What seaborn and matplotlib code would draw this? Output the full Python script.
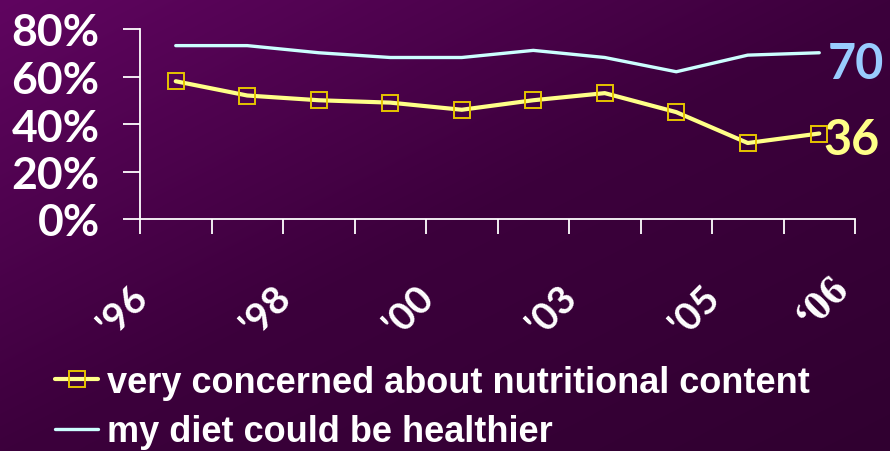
import numpy as np
import matplotlib
matplotlib.use("Agg")
import matplotlib.pyplot as plt
import seaborn as sns
from matplotlib import transforms

# Survey waves and results (percent)
survey_index = [0, 1, 2, 3, 4, 5, 6, 7, 8, 9]
concerned = [58, 52, 50, 49, 46, 50, 53, 45, 32, 36]
healthier = [73, 73, 70, 68, 68, 71, 68, 62, 69, 70]
year_labels = ["'96", "'98", "'00", "'03", "'05", "\u201806"]
y_ticks = [0, 20, 40, 60, 80]
y_labels = ["0%", "20%", "40%", "60%", "80%"]
series_names = ["very concerned about nutritional content",
                "my diet could be healthier"]

sns.set_theme(style="white")
plt.rcParams["font.family"] = ["Lato", "DejaVu Sans"]

W, H, DPI = 890, 452, 100
fig = plt.figure(figsize=(W / DPI, H / DPI), dpi=DPI)

# Diagonal purple gradient backdrop
bg = fig.add_axes([0, 0, 1, 1], zorder=-10)
yy, xx = np.mgrid[0:H, 0:W]
t = (xx / W + yy / H) / 2.0
stops = [0.0, 0.5, 1.0]
cols = np.array([[0x60, 0x05, 0x60], [0x3c, 0x00, 0x3c], [0x30, 0x00, 0x30]]) / 255.0
img = np.dstack([np.interp(t, stops, cols[:, c]) for c in range(3)])
bg.imshow(img, aspect="auto", extent=[0, 1, 0, 1], origin="upper")
bg.set_axis_off()

ax = fig.add_axes([140 / W, 1 - 220 / H, 715 / W, 190 / H])
ax.patch.set_alpha(0)

sns.lineplot(x=survey_index, y=healthier, ax=ax, color="#ccffff", lw=2.4,
             label=series_names[1], zorder=3)
sns.lineplot(x=survey_index, y=concerned, ax=ax, color="#ffff88", lw=3.0,
             marker="s", markersize=11.5, markerfacecolor="none",
             markeredgecolor="#e6c400", markeredgewidth=1.4,
             label=series_names[0], zorder=4)

ax.set_xlim(-0.5, 9.5)
ax.set_ylim(0, 80)
for s in ["top", "right"]:
    ax.spines[s].set_visible(False)
for s in ["left", "bottom"]:
    ax.spines[s].set_color("white")
    ax.spines[s].set_linewidth(1.3)

ax.set_yticks(y_ticks, y_labels)
ax.set_xticks(np.arange(-0.5, 10, 1.0), [""] * 11)
ax.tick_params(axis="y", left=True, direction="out", length=12, width=1.3,
               color="white", pad=17, labelcolor="white", labelsize=32)
ax.tick_params(axis="x", bottom=True, direction="out", length=11, width=1.3,
               color="white")
for lab in ax.get_yticklabels():
    lab.set_fontweight("bold")
ax.set_xlabel("")
ax.set_ylabel("")

# Year labels on every other category boundary, rotated
bounds = np.arange(-0.5, 10, 2.0)
blend = transforms.blended_transform_factory(ax.transData, ax.transAxes)
for i, (xb, lab) in enumerate(zip(bounds, year_labels)):
    last = i == len(year_labels) - 1
    dx, dy = (-32, -83) if last else (-17, -91)
    off = transforms.ScaledTranslation(dx / DPI, dy / DPI, fig.dpi_scale_trans)
    ax.text(xb, 0, lab, transform=blend + off, rotation=45,
            ha="center", va="center", color="white",
            fontsize=31 if last else 28, fontweight="bold",
            family=["Liberation Serif"] if last else ["Lato", "DejaVu Sans"])

# End-of-line value callouts
ax.annotate(str(healthier[-1]), xy=(survey_index[-1], healthier[-1]),
            xytext=(37 / 1.389, -11 / 1.389), textcoords="offset points",
            ha="center", va="center", color="#99ccff", fontsize=35,
            fontweight="bold", annotation_clip=False)
ax.annotate(str(concerned[-1]), xy=(survey_index[-1], concerned[-1]),
            xytext=(32 / 1.389, -6 / 1.389), textcoords="offset points",
            ha="center", va="center", color="#ffff88", fontsize=35,
            fontweight="bold", annotation_clip=False)

# Legend below the plot
handles, labels = ax.get_legend_handles_labels()
order = [labels.index(n) for n in series_names]
ax.legend_.remove()
leg = fig.legend([handles[k] for k in order], [labels[k] for k in order],
                 loc="upper left", bbox_to_anchor=(55 / W, 1 - 366 / H),
                 frameon=False, borderpad=0, borderaxespad=0,
                 handlelength=1.2, handletextpad=0.25, labelspacing=0.4,
                 prop={"family": "Liberation Sans", "weight": "bold", "size": 26})
for txt in leg.get_texts():
    txt.set_color("white")

fig.savefig("out.png", dpi=DPI)
